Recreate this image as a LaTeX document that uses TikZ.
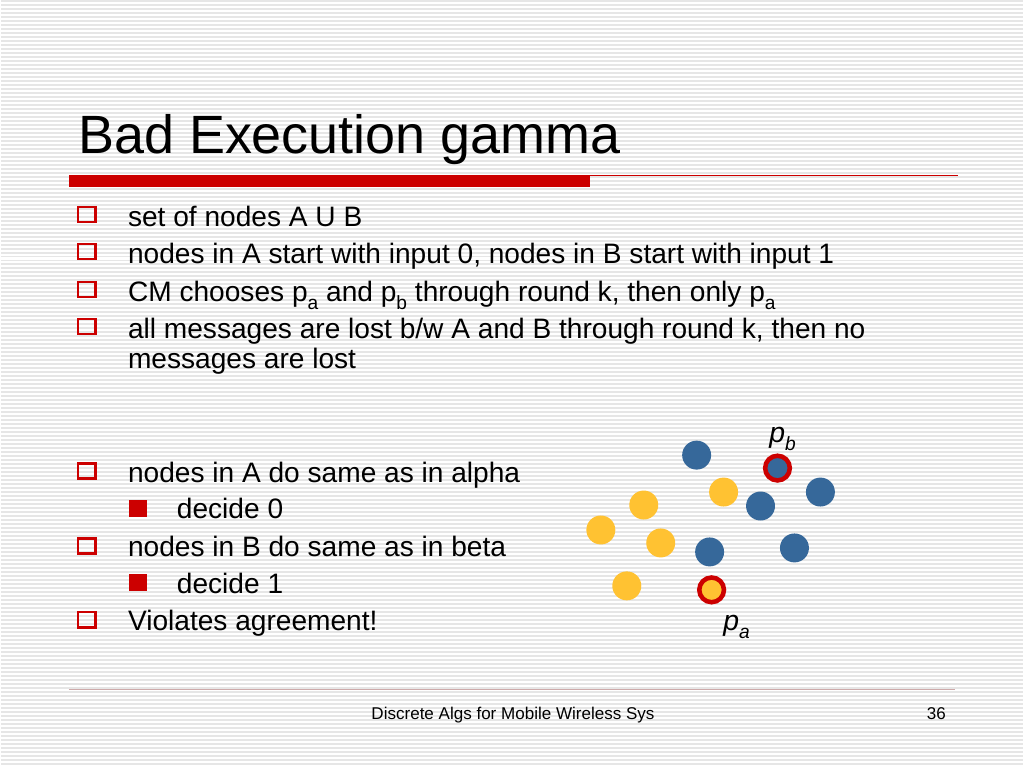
\documentclass[tikz,border=0pt]{standalone}
\usepackage{fontspec}
\setmainfont{Liberation Sans}
\usetikzlibrary{positioning}
\definecolor{slidered}{RGB}{204, 0, 0}
\definecolor{stripegray}{RGB}{230, 230, 230}
\definecolor{footgray}{RGB}{205, 170, 170}
\definecolor{nodeblue}{RGB}{54, 104, 154}
\definecolor{nodeyellow}{RGB}{255, 194, 50}
\newcommand{\lowsub}[1]{\raisebox{-0.3em}{\fontsize{13.5}{14}\selectfont #1}}
\tikzstyle{bulletbox} = [rectangle, draw=slidered, line width=1.7pt,
                         minimum width=12.4pt, minimum height=10.6pt,
                         inner sep=0pt]
\tikzstyle{subbox} = [rectangle, fill=slidered,
                      minimum width=12.6pt, minimum height=12pt,
                      inner sep=0pt]
\tikzstyle{line} = [anchor=base west, inner sep=0pt,
                    font=\fontsize{19.8}{24}\selectfont]
\tikzstyle{bnode} = [circle, fill=nodeblue, minimum size=20.4pt, inner sep=0pt]
\tikzstyle{anode} = [circle, fill=nodeyellow, minimum size=20.4pt, inner sep=0pt]
\tikzstyle{chosen} = [draw=slidered, line width=3.2pt, minimum size=17.4pt]
\tikzstyle{plabel} = [inner sep=0pt, font=\fontsize{20}{24}\selectfont]

\begin{document}
\begin{tikzpicture}[x=0.703125pt, y=-0.703125pt]

    % background
    \fill[white] (0,0) rectangle (1024,768);
    \foreach \y in {1,5,...,768}
        \draw[stripegray, line width=1.4pt] (0,\y) -- (1024,\y);
    \useasboundingbox (0,0) rectangle (1024,768);

    % title
    \node (Title) [anchor=base west, inner sep=0pt,
                   font=\fontsize{38}{44}\selectfont] at (77,154) {Bad Execution gamma};
    \fill[slidered] (68,175) rectangle (590,187);
    \draw[slidered, line width=0.9pt] (590,175.5) -- (959,175.5);

    % bullets
    \node (B1) [bulletbox] at (86,215) {};
    \node (L1) [line] at (127,227) {set of nodes A U B};
    \node (B2) [bulletbox] at (86,252) {};
    \node (L2) [line] at (127,264) {nodes in A start with input 0, nodes in B start with input 1};
    \node (B3) [bulletbox] at (86,290) {};
    \node (L3) [line] at (127,302) {CM chooses p\lowsub{a} and p\lowsub{b} through round k, then only p\lowsub{a}};
    \node (B4) [bulletbox] at (86,327) {};
    \node (L4) [line] at (127,339) {all messages are lost b/w A and B through round k, then no};
    \node (L4b) [line] at (127,369) {messages are lost};

    \node (B5) [bulletbox] at (86,472) {};
    \node (L5) [line] at (127,483) {nodes in A do same as in alpha};
    \node (S1) [subbox] at (137,509) {};
    \node (L6) [line] at (176,520) {decide 0};
    \node (B6) [bulletbox] at (86,547) {};
    \node (L7) [line] at (127,558) {nodes in B do same as in beta};
    \node (S2) [subbox] at (137,584) {};
    \node (L8) [line] at (176,595) {decide 1};
    \node (B7) [bulletbox] at (86,621) {};
    \node (L9) [line] at (127,632) {Violates agreement!};

    % nodes of B
    \node (b1) [bnode] at (697,456) {};
    \node (pb) [bnode, chosen] at (778,469) {};
    \node (b3) [bnode] at (821,493) {};
    \node (b4) [bnode] at (761,507) {};
    \node (b5) [bnode] at (795,549) {};
    \node (b6) [bnode] at (710,553) {};

    % nodes of A
    \node (a1) [anode] at (724,493) {};
    \node (a2) [anode] at (644,506) {};
    \node (a3) [anode] at (601,531) {};
    \node (a4) [anode] at (661,544) {};
    \node (a5) [anode] at (627,587) {};
    \node (pa) [anode, chosen] at (712,591) {};

    \node (pbLabel) [plabel] at (783,440) {\textit{p}\lowsub{\textit{b}}};
    \node (paLabel) [plabel] at (737,628) {\textit{p}\lowsub{\textit{a}}};

    % footer
    \draw[footgray, line width=0.6pt] (68,691) -- (956,691);
    \node (Footer) [anchor=base, inner sep=0pt, font=\fontsize{12}{14}\selectfont]
        at (513,721) {Discrete Algs for Mobile Wireless Sys};
    \node (Page) [anchor=base east, inner sep=0pt, font=\fontsize{12}{14}\selectfont]
        at (947,721) {36};

\end{tikzpicture}
\end{document}
